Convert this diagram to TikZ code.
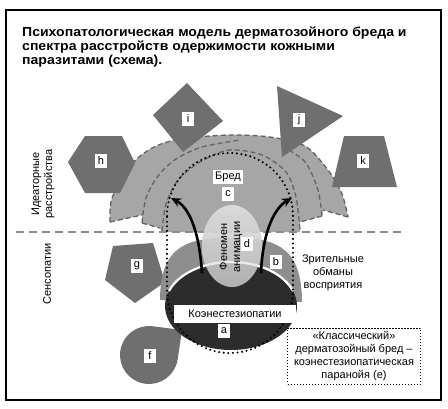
\documentclass[tikz,border=0pt]{standalone}
\usepackage{fontspec}
\setmainfont{Liberation Sans}
\newfontfamily\titlefont{Liberation Sans}[FakeStretch=1.08]
\usetikzlibrary{arrows.meta,positioning,calc}
\definecolor{figgray}{RGB}{111,111,111}
\definecolor{domegray}{RGB}{166,166,166}
\definecolor{edgegray}{RGB}{100,100,100}
\definecolor{bandgray}{RGB}{142,142,142}
\definecolor{coregray}{RGB}{44,44,44}
\definecolor{sepgray}{RGB}{140,140,140}

\begin{document}
\begin{tikzpicture}[x=1pt,y=-1pt,
    every node/.style={font=\fontsize{11}{13}\selectfont},
    tag/.style={fill=white,inner sep=2pt,minimum width=12pt,minimum height=14pt},
    fig/.style={fill=figgray},
    domeedge/.style={draw=edgegray,line width=1.3pt,dash pattern=on 5pt off 3pt},
    dots/.style={line width=2.3pt,dash pattern=on 0pt off 4.6pt,line cap=round},
    bigarrow/.style={line width=2.6pt,-{Stealth[length=10pt,width=9pt]}}
    ]
    \useasboundingbox (0,0) rectangle (448,408);
    \draw[line width=2.6pt] (6,10) rectangle (441,400);

    \node (title) [anchor=north west,align=left,inner sep=0pt,
        font=\titlefont\bfseries\fontsize{13}{13.6}\selectfont] at (22,27)
        {Психопатологическая модель дерматозойного бреда и\\
         спектра расстройств одержимости кожными\\
         паразитами (схема).};

    % the dome
    \fill[domegray] plot[smooth] coordinates {(110,222) (112,198) (130,166) (152,148)
        (180,139) (229,135) (270,137) (305,146) (328,170) (342,194) (348,217)}
        -- (323,210) -- (322,216) -- (300,222) -- (300,232) -- (162,232)
        -- (160,228) -- (142,223) -- (142,215) -- cycle;
    \draw[domeedge] plot[smooth] coordinates {(110,222) (112,198) (130,166) (152,148)
        (180,139) (229,135) (270,137) (305,146) (328,170) (342,194) (348,217)};
    \draw[domeedge] (110,222) -- (142,215);
    \draw[domeedge] (348,217) -- (323,210);
    \draw[domeedge] plot[smooth] coordinates {(142,223) (146,198) (158,176) (176,159)
        (202,147) (240,140)};
    \draw[domeedge] (142,223) -- (160,228);
    \draw[domeedge] plot[smooth] coordinates {(162,231) (166,204) (178,180) (200,162)
        (229,150) (262,155) (286,172) (296,197) (300,230)};
    \draw[domeedge] plot[smooth] coordinates {(289,150) (306,163) (318,190) (322,216)};
    \draw[domeedge] (322,216) -- (300,222);

    % the figures
    \fill[fig] (68,162) -- (85,136) -- (122,136) -- (135,163) -- (120,193) -- (85,193) -- cycle;
    \fill[fig] (187,83) -- (223,121) -- (183,152) -- (153,115) -- cycle;
    \fill[fig] (277,86) -- (343,116) -- (282,157) -- cycle;
    \fill[fig] (344,136) -- (384,136) -- (397,187) -- (332,187) -- cycle;
    \fill[fig] (113,246) -- (153,243) -- (165,282) -- (135,303) -- (105,280) -- cycle;
    \fill[fig] (182,330) -- ([shift={(149,355)}]8.4:29)
        arc[start angle=8.4,end angle=277.4,radius=29] -- cycle;

    % the border line
    \coordinate (sepL) at (16,232);
    \coordinate (sepR) at (401,232);
    \draw[sepgray,line width=1.8pt,dash pattern=on 8pt off 5pt] (sepL) -- (sepR);

    % the core
    \fill[bandgray] (160,300) .. controls (160,242) and (192,238) .. (231,238)
        .. controls (270,238) and (302,242) .. (302,302) -- cycle;
    \fill[coregray] (231,306) ellipse [x radius=66,y radius=44];
    \draw[white,line width=2.2pt] ([shift={(231,306)}]200:66 and 44)
        arc[start angle=200,end angle=340,x radius=66,y radius=44];
    \path[top color=gray!25,middle color=gray!45,bottom color=gray!50,opacity=0.9]
        (232,246) ellipse [x radius=30,y radius=41];
    \draw[white,line width=2.2pt,opacity=0.6] ([shift={(231,306)}]245:66 and 44)
        arc[start angle=245,end angle=295,x radius=66,y radius=44];
    \draw[dots] (167,216) arc[start angle=180,end angle=360,radius=63]
        -- (293,290) arc[start angle=0,end angle=180,radius=63] -- cycle;

    % the arrows
    \coordinate (lfoot) at (202,273);
    \coordinate (ltip) at (171,198);
    \coordinate (rfoot) at (261,273);
    \coordinate (rtip) at (292,198);
    \draw[bigarrow] (lfoot) .. controls (199,228) and (188,207) .. (ltip);
    \draw[bigarrow] (rfoot) .. controls (263,228) and (276,207) .. (rtip);

    % the labels
    \node (h) [tag] at (101,161) {h};
    \node (i) [tag] at (188,119) {i};
    \node (j) [tag] at (299,120) {j};
    \node (k) [tag] at (363,161) {k};
    \node (g) [tag] at (137,266) {g};
    \node (f) [tag] at (150,356) {f};
    \node (delu) [tag,inner sep=2.5pt] at (228,177) {Бред};
    \node (c) [tag] at (228,194) {c};
    \node (d) [tag] at (247,244) {d};
    \node (b) [tag] at (276,262) {b};
    \node (coen) [tag,minimum width=122pt,minimum height=18pt] at (235,314) {Коэнестезиопатии};
    \node (a) [tag] at (224,331) {a};
    \node (anim) [rotate=90,align=center,inner sep=0pt] at (231,247) {Феномен\\анимации};
    \node (vis) [align=center] at (333,273) {Зрительные\\обманы\\восприятия};
    \node (classic) [draw,line width=0.9pt,dash pattern=on 1.2pt off 1.8pt,align=center,
        minimum width=133pt,minimum height=56pt,inner sep=1pt] at (354,356)
        {«Классический»\\дерматозойный бред –\\коэнестезиопатическая\\паранойя (e)};
    \node (ideat) [rotate=90,align=center] at (43,184) {Идеаторные\\расстройства};
    \node (senso) [rotate=90] at (47,274) {Сенсопатии};
\end{tikzpicture}
\end{document}
